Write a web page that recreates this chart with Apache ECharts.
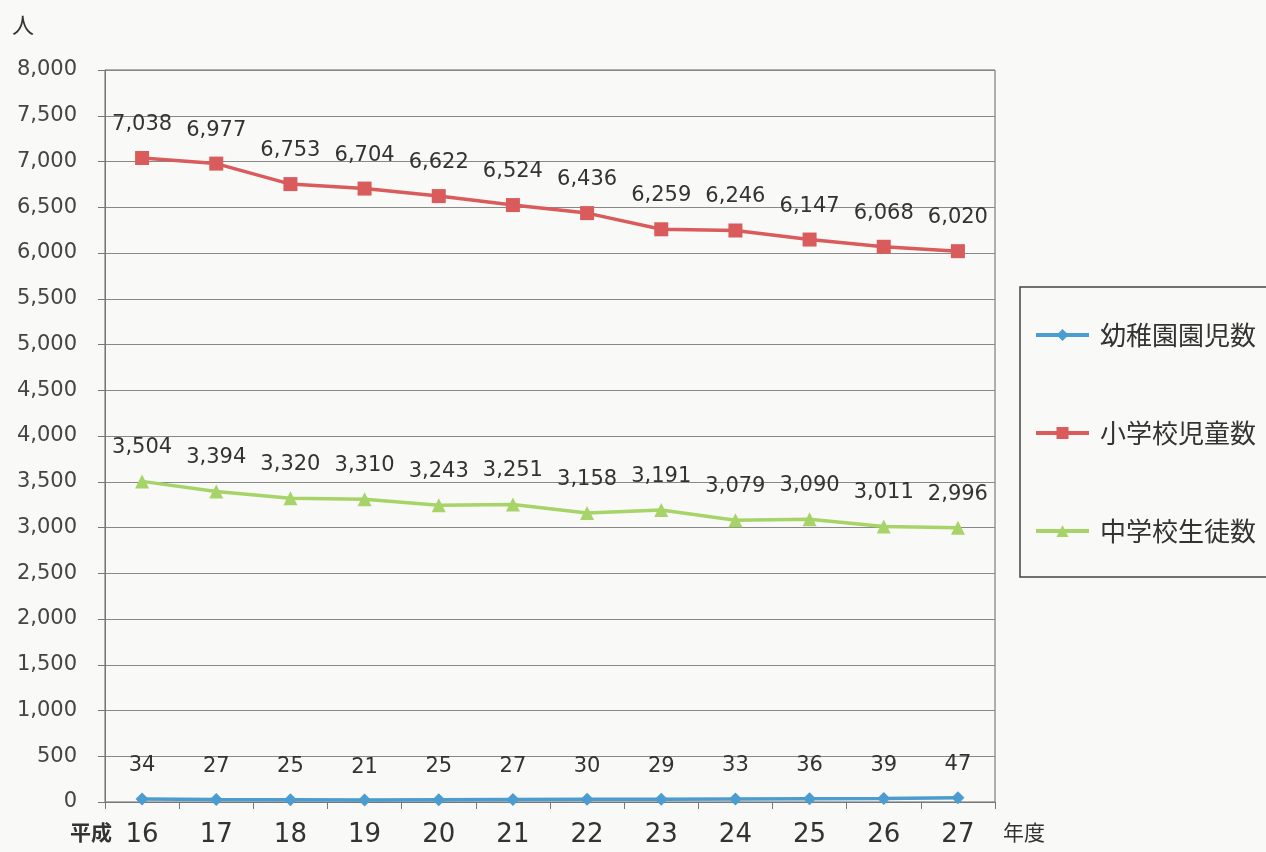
<!DOCTYPE html>
<html><head><meta charset="utf-8">
<script src="https://cdn.jsdelivr.net/npm/echarts@6/dist/echarts.min.js"></script>
<style>html,body{margin:0;padding:0;background:#f9f9f7;}#c{width:1266px;height:852px;}</style>
</head><body><div id="c"></div>
<script>
const categories = ['16','17','18','19','20','21','22','23','24','25','26','27'];
const seriesNames = ['幼稚園園児数','小学校児童数','中学校生徒数'];
const kindergarten = [34,27,25,21,25,27,30,29,33,36,39,47];
const elementary = [7038,6977,6753,6704,6622,6524,6436,6259,6246,6147,6068,6020];
const juniorHigh = [3504,3394,3320,3310,3243,3251,3158,3191,3079,3090,3011,2996];
const colors = ['#4b9cd0','#d95b5b','#a6d468'];
const symbols = ['diamond','rect','triangle'];
const FONT = '"Noto Sans CJK JP", "Noto Sans", sans-serif';
const NUMFONT = '"DejaVu Sans", sans-serif';
const fmt = v => String(v).replace(/\B(?=(\d{3})+(?!\d))/g, ',');

const chart = echarts.init(document.getElementById('c'));
const dataSets = [kindergarten, elementary, juniorHigh];
chart.setOption({
  backgroundColor: '#f9f9f7',
  animation: false,
  textStyle: {fontFamily: FONT},
  grid: {left: 105, right: 271, top: 70, bottom: 50, show: true, borderColor: '#666', borderWidth: 1},
  legend: {
    orient: 'vertical', left: 1020, top: 287,
    padding: [33, 40, 31, 14], itemGap: 68,
    borderColor: '#444', borderWidth: 1.5, backgroundColor: 'transparent',
    itemWidth: 53, itemHeight: 15,
    lineStyle: {width: 4},
    textStyle: {fontSize: 26, color: '#333', lineHeight: 30, fontFamily: FONT, padding: [0,0,0,6]},
    data: seriesNames
  },
  xAxis: {
    type: 'category', data: categories, boundaryGap: true,
    axisLine: {lineStyle: {color: '#777', width: 1}},
    axisTick: {show: true, length: 7, interval: 0, lineStyle: {color: '#777'}},
    axisLabel: {fontSize: 26, color: '#333', margin: 20, interval: 0, fontFamily: NUMFONT}
  },
  yAxis: {
    type: 'value', min: 0, max: 8000, interval: 500,
    axisLine: {show: true, lineStyle: {color: '#777'}},
    axisTick: {show: true, length: 7, lineStyle: {color: '#777'}},
    axisLabel: {fontSize: 21, color: '#444', margin: 28, formatter: v => fmt(v), fontFamily: NUMFONT},
    splitLine: {lineStyle: {color: '#888', width: 1}}
  },
  graphic: [
    {type: 'text', left: 12, top: 14, style: {text: '人', fontSize: 22, fill: '#333', fontFamily: FONT}},
    {type: 'text', left: 70, top: 822, style: {text: '平成', fontSize: 21, fill: '#333', fontWeight: 'bold', fontFamily: FONT}},
    {type: 'text', left: 1003, top: 822, style: {text: '年度', fontSize: 21, fill: '#333', fontFamily: FONT}}
  ],
  series: seriesNames.map((n, i) => ({
    name: n, type: 'line', data: dataSets[i],
    symbol: symbols[i], symbolSize: i === 0 ? 13 : 14,
    itemStyle: {color: colors[i]},
    lineStyle: {color: colors[i], width: 3.5},
    label: {show: true, position: 'top', distance: 16, fontSize: 21, color: '#333', formatter: p => fmt(p.value), fontFamily: NUMFONT}
  }))
});
</script></body></html>
